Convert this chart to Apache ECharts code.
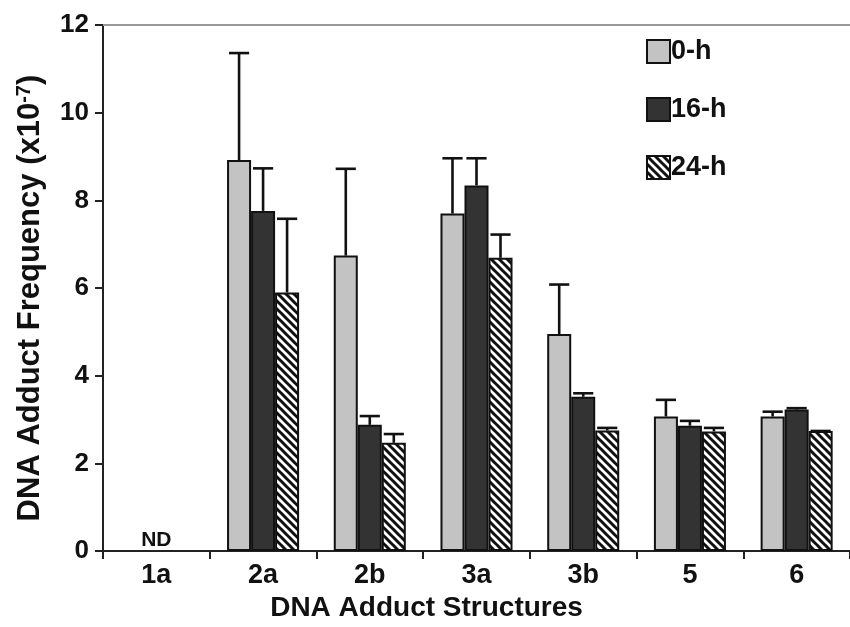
<!DOCTYPE html>
<html>
<head>
<meta charset="utf-8">
<script src="https://cdn.jsdelivr.net/npm/echarts@6/dist/echarts.min.js"></script>
<style>html,body{margin:0;padding:0;background:#fff}#c{width:850px;height:627px}</style>
</head>
<body>
<div id="c"></div>
<script>
// ---- data ----
var categories = ['1a', '2a', '2b', '3a', '3b', '5', '6'];
var seriesNames = ['0-h', '16-h', '24-h'];
var h0  = [null, 8.92, 6.74, 7.70, 4.95, 3.07, 3.07];
var h16 = [null, 7.76, 2.88, 8.34, 3.52, 2.86, 3.23];
var h24 = [null, 5.90, 2.47, 6.69, 2.75, 2.73, 2.74];
var h0Sd  = [null, 2.44, 1.98, 1.26, 1.13, 0.38, 0.11];
var h16Sd = [null, 0.97, 0.20, 0.62, 0.08, 0.11, 0.03];
var h24Sd = [null, 1.68, 0.20, 0.53, 0.06, 0.08, 0.00];
var notDetected = ['1a'];
var yTicks = [0, 2, 4, 6, 8, 10, 12];

var FONT = '"Liberation Sans", Arial, Helvetica, sans-serif';

// hatch pattern
function hatch() {
  var c = document.createElement('canvas');
  var s = 8;
  c.width = s; c.height = s;
  var g = c.getContext('2d');
  g.fillStyle = '#fff'; g.fillRect(0, 0, s, s);
  g.strokeStyle = '#111'; g.lineWidth = 3;
  for (var k = -1; k <= 1; k++) {
    g.beginPath();
    g.moveTo(k * s - 1, -1);
    g.lineTo(k * s + s + 1, s + 1);
    g.stroke();
  }
  return c;
}
var fills = ['#c3c3c3', '#333333', {image: hatch(), repeat: 'repeat'}];
var values = [h0, h16, h24];
var sds = [h0Sd, h16Sd, h24Sd];
var BARW = 0.225;

var series = [];
values.forEach(function (v, i) {
  series.push({
    name: seriesNames[i], type: 'bar', data: v,
    barWidth: (BARW * 100) + '%', barGap: '0%',
    itemStyle: {color: fills[i], borderColor: '#111', borderWidth: 2},
    z: 2
  });
});
values.forEach(function (v, i) {
  var d = [];
  v.forEach(function (m, j) {
    if (m != null && sds[i][j] != null) d.push([j, m, m + sds[i][j]]);
  });
  var off = i - 1;
  series.push({
    type: 'custom', silent: true, z: 3,
    data: d,
    encode: {x: 0, y: [1, 2]},
    renderItem: function (params, api) {
      var idx = api.value(0);
      var lo = api.coord([idx, api.value(1)]);
      var hi = api.coord([idx, api.value(2)]);
      var band = api.size([1, 0])[0];
      var x = lo[0] + off * band * BARW;
      var half = band * BARW * 0.42;
      var st = {stroke: '#111', lineWidth: 2.6};
      return {type: 'group', children: [
        {type: 'line', shape: {x1: x, y1: lo[1], x2: x, y2: hi[1]}, style: st},
        {type: 'line', shape: {x1: x - half, y1: hi[1], x2: x + half, y2: hi[1]}, style: st}
      ]};
    }
  });
});
series.push({
  type: 'scatter', symbol: 'rect', symbolSize: [1, 1], itemStyle: {color: '#222', opacity: 1}, silent: true, z: 5,
  data: notDetected.map(function (c) { return [c, 0]; }),
  label: {show: true, position: 'top', distance: 0, formatter: 'ND', opacity: 1,
          color: '#111', fontWeight: 'bold', fontSize: 21, fontFamily: FONT}
});
series[0].markLine = {
  silent: true, symbol: 'none', label: {show: false},
  lineStyle: {color: '#999', width: 2, type: 'solid'},
  data: [{yAxis: yTicks[yTicks.length - 1]}]
};

var chart = echarts.init(document.getElementById('c'), null, {renderer: 'canvas'});
chart.setOption({
  animation: false,
  backgroundColor: '#fff',
  textStyle: {fontFamily: FONT},
  grid: {left: 103, right: -8, top: 25, bottom: 74},
  legend: {
    data: seriesNames, orient: 'vertical', left: 641, top: 33,
    itemWidth: 23, itemHeight: 23, itemGap: 31, icon: 'rect',
    textStyle: {fontFamily: FONT, fontWeight: 'bold', fontSize: 27, color: '#111', padding: [0, 0, 0, -4]}
  },
  xAxis: {
    type: 'category', data: categories,
    axisLine: {lineStyle: {color: '#222', width: 2}},
    axisTick: {show: true, length: 8, lineStyle: {color: '#222', width: 2}},
    axisLabel: {color: '#111', fontWeight: 'bold', fontSize: 27, fontFamily: FONT, margin: 11},
    name: 'DNA Adduct Structures', nameLocation: 'middle', nameGap: 38,
    nameTextStyle: {color: '#111', fontWeight: 'bold', fontSize: 28, fontFamily: FONT, padding: [0, 100, 0, 0], verticalAlign: 'top'}
  },
  yAxis: {
    type: 'value', min: 0, max: 12, interval: 2,
    axisLine: {show: true, lineStyle: {color: '#222', width: 2}},
    axisTick: {show: true, length: 8, lineStyle: {color: '#222', width: 2}},
    splitLine: {show: false},
    axisLabel: {color: '#111', fontWeight: 'bold', fontSize: 26, fontFamily: FONT, margin: 14},
    name: '{b|DNA Adduct Frequency (x10}{s|-7}{b|)}', nameLocation: 'middle', nameRotate: 90, nameGap: 56,
    nameTextStyle: {
      padding: [0, 0, 0, -20],
      rich: {
        b: {color: '#111', fontWeight: 'bold', fontSize: 31, fontFamily: FONT, lineHeight: 33},
        s: {color: '#111', fontWeight: 'bold', fontSize: 20, fontFamily: FONT, verticalAlign: 'top', lineHeight: 20}
      }
    }
  },
  series: series
});
</script>
</body>
</html>
